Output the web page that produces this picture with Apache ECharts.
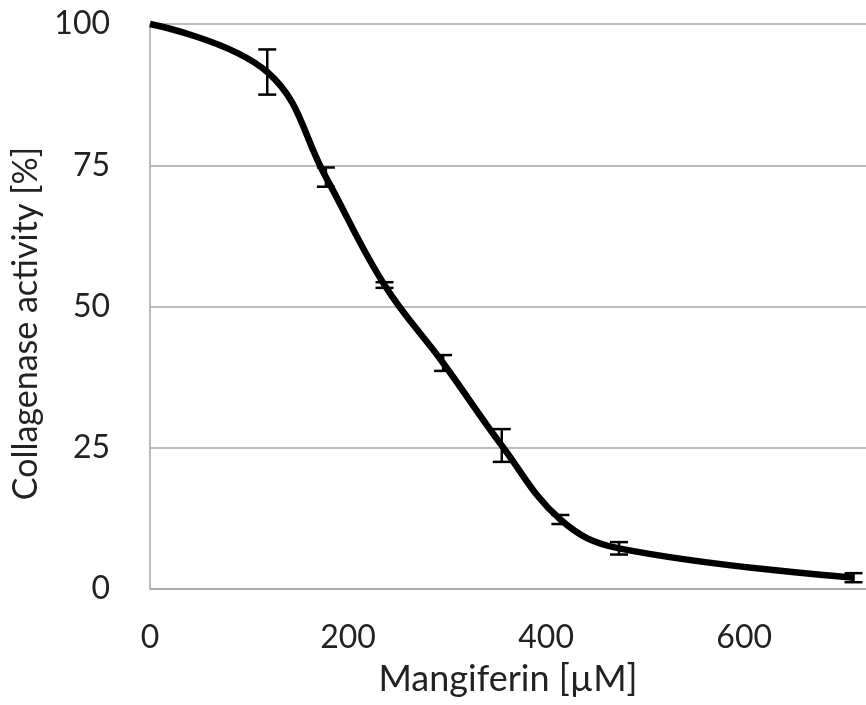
<!DOCTYPE html>
<html>
<head>
<meta charset="utf-8">
<title>Mangiferin</title>
<script src="https://cdn.jsdelivr.net/npm/echarts@6/dist/echarts.min.js"></script>
<style>
    html, body { margin: 0; padding: 0; background: #fff; }
    #container { width: 866px; height: 705px; }
</style>
</head>
<body>
<div id="container"></div>
<script>
    // concentration of mangiferin (uM)
    var conc = [0, 118.4, 177.6, 236.8, 296, 355.2, 414.4, 473.6, 710.4];
    // collagenase activity (%)
    var activity = [100, 91.5, 72.9, 53.8, 40.0, 25.4, 12.3, 7.2, 2.0];
    // +/- error
    var errs = [0, 4.0, 1.7, 0.5, 1.4, 2.9, 0.8, 1.1, 0.8];
    var xTicks = [0, 200, 400, 600];
    var yTicks = [0, 25, 50, 75, 100];

    var dom = document.getElementById('container');
    var myChart = echarts.init(dom, null, {renderer: 'canvas'});

    var lineData = [];
    var errData = [];
    for (let i = 0; i < conc.length; i++) {
        lineData.push([conc[i], activity[i]]);
        if (errs[i] > 0) {
            errData.push([conc[i], activity[i] - errs[i], activity[i] + errs[i]]);
        }
    }

    var fontFam = 'Lato';
    var txtColor = '#222';

    var option = {
        animation: false,
        grid: {left: 150, top: 24, right: 0, bottom: 116},
        xAxis: {
            type: 'value',
            min: 0,
            max: 723,
            interval: 200,
            name: 'Mangiferin [µM]',
            nameLocation: 'middle',
            nameGap: 72,
            nameTextStyle: {fontFamily: fontFam, fontSize: 36, color: txtColor},
            axisLine: {show: true, lineStyle: {color: '#a6a6a6', width: 1.5}},
            axisTick: {show: false},
            splitLine: {show: false},
            axisLabel: {
                margin: 33, fontFamily: fontFam, fontSize: 32, color: txtColor,
                showMaxLabel: false,
                formatter: function (v) { return xTicks.indexOf(v) >= 0 ? String(v) : ''; }
            }
        },
        yAxis: {
            type: 'value',
            min: 0,
            max: 100,
            interval: 25,
            name: 'Collagenase activity [%]',
            nameLocation: 'middle',
            nameGap: 101,
            nameTextStyle: {fontFamily: fontFam, fontSize: 34, color: txtColor, padding: [0, 34, 0, 0]},
            axisLine: {show: true, lineStyle: {color: '#a6a6a6', width: 1.5}},
            axisTick: {show: false},
            splitLine: {show: true, lineStyle: {color: '#a6a6a6', width: 1.5}},
            axisLabel: {
                margin: 40, fontFamily: fontFam, fontSize: 32, color: txtColor,
                formatter: function (v) { return yTicks.indexOf(v) >= 0 ? String(v) : ''; }
            }
        },
        series: [
            {
                type: 'line',
                data: lineData,
                smooth: 0.4,
                symbol: 'none',
                lineStyle: {color: '#000', width: 6.5},
                z: 2
            },
            {
                type: 'custom',
                data: errData,
                z: 3,
                renderItem: function (params, api) {
                    var lo = api.coord([api.value(0), api.value(1)]);
                    var hi = api.coord([api.value(0), api.value(2)]);
                    var w = 9;
                    var st = {stroke: '#000', lineWidth: 2.5};
                    return {
                        type: 'group',
                        children: [
                            {type: 'line', shape: {x1: lo[0], y1: lo[1], x2: hi[0], y2: hi[1]}, style: st},
                            {type: 'line', shape: {x1: lo[0] - w, y1: lo[1], x2: lo[0] + w, y2: lo[1]}, style: st},
                            {type: 'line', shape: {x1: hi[0] - w, y1: hi[1], x2: hi[0] + w, y2: hi[1]}, style: st}
                        ]
                    };
                }
            }
        ]
    };

    myChart.setOption(option);
    window.addEventListener('resize', myChart.resize);
</script>
</body>
</html>
